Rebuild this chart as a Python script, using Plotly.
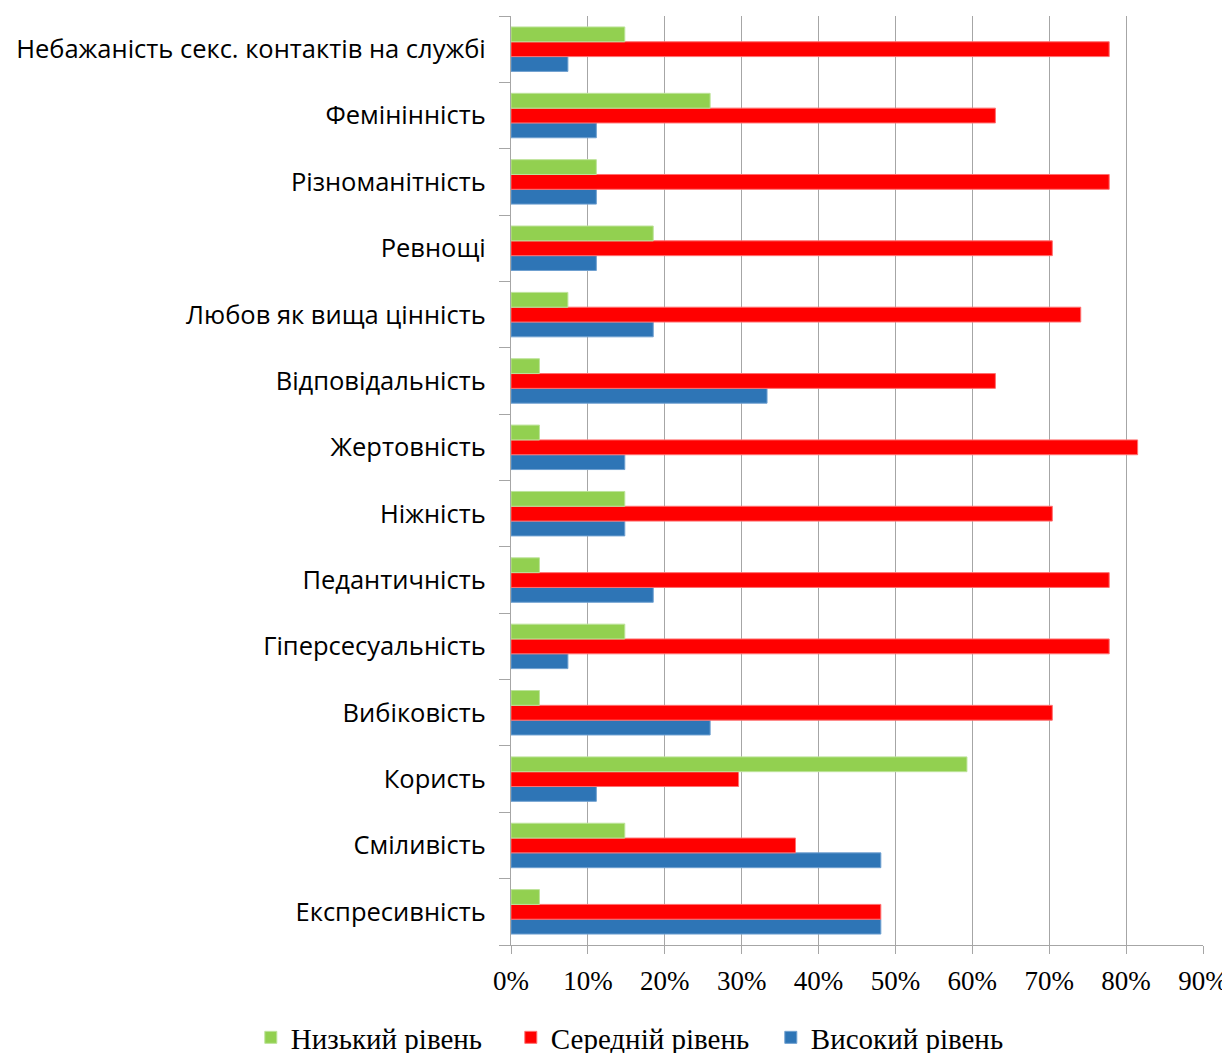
import plotly.graph_objects as go

categories = [
    "Експресивність",
    "Сміливість",
    "Користь",
    "Вибіковість",
    "Гіперсесуальність",
    "Педантичність",
    "Ніжність",
    "Жертовність",
    "Відповідальність",
    "Любов як вища цінність",
    "Ревнощі",
    "Різноманітність",
    "Фемінінність",
    "Небажаність секс. контактів на службі",
]
low = [3.7, 14.8, 59.3, 3.7, 14.8, 3.7, 14.8, 3.7, 3.7, 7.4, 18.5, 11.1, 25.9, 14.8]
mid = [48.1, 37.0, 29.6, 70.4, 77.8, 77.8, 70.4, 81.5, 63.0, 74.1, 70.4, 77.8, 63.0, 77.8]
high = [48.1, 48.1, 11.1, 25.9, 7.4, 18.5, 14.8, 14.8, 33.3, 18.5, 11.1, 11.1, 11.1, 7.4]
series_names = ["Низький рівень", "Середній рівень", "Високий рівень"]
x_ticks = [0, 10, 20, 30, 40, 50, 60, 70, 80, 90]
x_tick_labels = ["0%", "10%", "20%", "30%", "40%", "50%", "60%", "70%", "80%", "90%"]

fig = go.Figure()
fig.add_trace(go.Bar(y=categories, x=high, orientation="h", name=series_names[2],
                     marker=dict(color="#2E75B6", line=dict(color="#6FA0D0", width=1))))
fig.add_trace(go.Bar(y=categories, x=mid, orientation="h", name=series_names[1],
                     marker=dict(color="#FF0000", line=dict(color="#FF7070", width=1))))
fig.add_trace(go.Bar(y=categories, x=low, orientation="h", name=series_names[0],
                     marker=dict(color="#92D050", line=dict(color="#BDE39A", width=1))))

fig.update_layout(
    width=1222, height=1065,
    margin=dict(l=503, r=27, t=8, b=128),
    paper_bgcolor="white", plot_bgcolor="white",
    barmode="group", bargap=0.33, bargroupgap=0,
    showlegend=True,
    legend=dict(orientation="h", traceorder="reversed", xref="paper", x=-0.376, xanchor="left",
                yref="paper", y=-0.127, yanchor="bottom",
                font=dict(family="Liberation Serif", size=29, color="black"),
                itemwidth=30, tracegroupgap=0, entrywidth=215),
    xaxis=dict(range=[0, 90], tickvals=x_ticks, ticktext=x_tick_labels,
               showgrid=True, gridcolor="#A6A6A6", gridwidth=1.3,
               showline=True, linecolor="#A6A6A6", linewidth=1.3,
               ticks="outside", ticklen=8, tickcolor="#A6A6A6", tickwidth=1.3,
               tickfont=dict(family="Liberation Serif", size=27, color="black"),
               ticklabelstandoff=3, zeroline=False, fixedrange=True, automargin=False),
    yaxis=dict(type="category", categoryorder="array", categoryarray=categories,
               showgrid=False, showline=True, linecolor="#A6A6A6", linewidth=1.3,
               ticks="outside", tickson="boundaries", ticklen=11, tickcolor="#A6A6A6", tickwidth=1.3,
               tickfont=dict(family="Open Sans", size=25.5, color="black"),
               ticklabelstandoff=19, fixedrange=True, automargin=False),
)

fig.write_html("out.html")
